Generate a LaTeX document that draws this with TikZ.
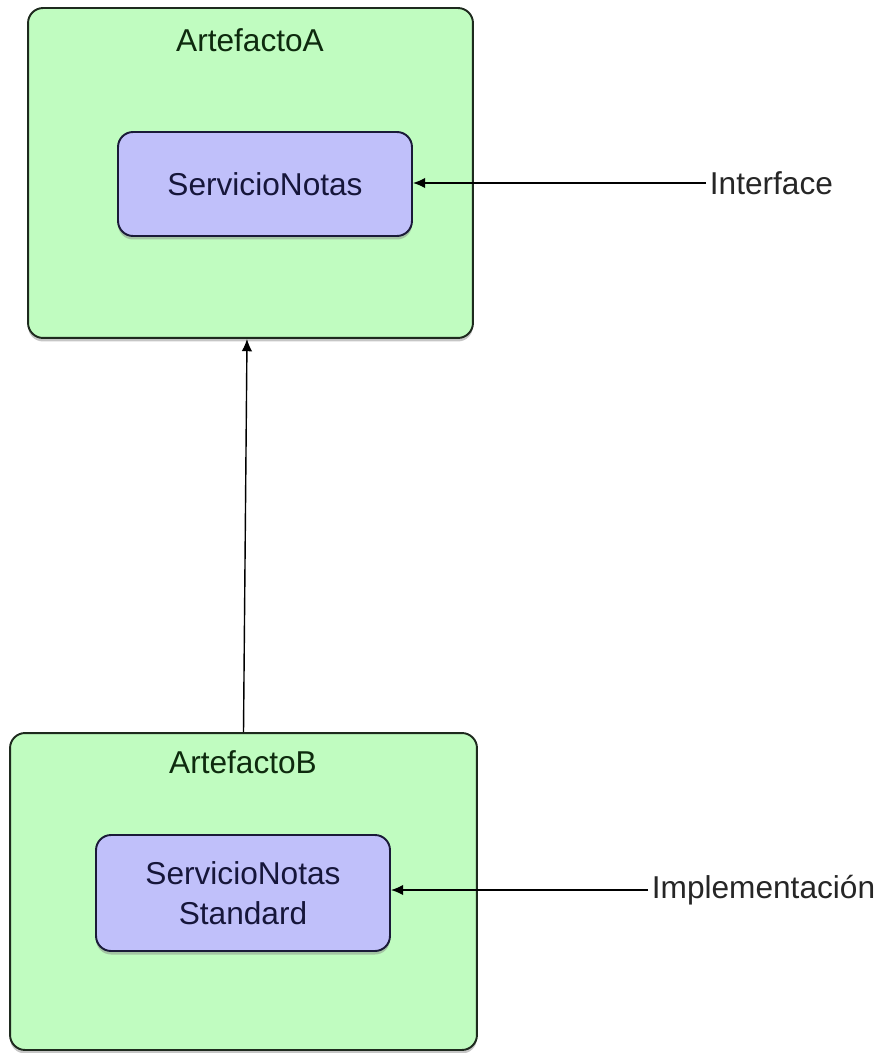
\documentclass[tikz,border=0pt]{standalone}
\usepackage{fontspec}
\setmainfont{Liberation Sans}
\usepackage{xcolor}
\usepackage{tikz}
\usetikzlibrary{shadows, arrows.meta}

\definecolor{artgreen}{HTML}{C0FCC0}
\definecolor{srvblue}{HTML}{C0C0FA}
\definecolor{artline}{HTML}{1E2A1E}
\definecolor{srvline}{HTML}{1A1A38}
\definecolor{arttext}{HTML}{0E2A0E}
\definecolor{srvtext}{HTML}{16163A}

\tikzset{
  artefacto/.style={draw=artline, line width=1.1pt, fill=artgreen, rounded corners=0.3cm,
    drop shadow={shadow xshift=0pt, shadow yshift=-2pt, opacity=0.45}},
  servicio/.style={draw=srvline, line width=1.1pt, fill=srvblue, rounded corners=0.3cm,
    minimum width=5.88cm, align=center, text=srvtext,
    drop shadow={shadow xshift=0pt, shadow yshift=-2pt, opacity=0.45}},
  txt/.style={font=\fontsize{18}{23}\selectfont},
  flecha/.style={-{Latex[length=7pt, width=6pt]}, line width=0.8pt},
}

\begin{document}
\begin{tikzpicture}[x=0.02cm, y=-0.02cm, txt]
            \useasboundingbox (0,0) rectangle (879,1053);
            % artefacto A
            \node[artefacto, minimum width=8.9cm, minimum height=6.6cm] (artA) at (250.5,173) {};
            \node[text=arttext] (lblA) at (250,40) {ArtefactoA};
            \node[servicio, minimum height=2.08cm] (servA) at (265,184) {ServicioNotas};
            % artefacto B
            \node[artefacto, minimum width=9.34cm, minimum height=6.34cm] (artB) at (243.5,891.5) {};
            \node[text=arttext] (lblB) at (243,762) {ArtefactoB};
            \node[servicio, minimum height=2.32cm] (servB) at (243,893) {ServicioNotas\\Standard};
            % etiquetas
            \node[anchor=west, inner sep=2pt, text=black!85] (iface) at (706,183) {Interface};
            \node[anchor=west, inner sep=2pt, text=black!85] (impl) at (648,890) {Implementación};
            \draw[flecha] (iface.west) -- (iface.west -| servA.east);
            \draw[flecha] (impl.west) -- (impl.west -| servB.east);
            \draw[flecha] (artB.north) -- ([xshift=-0.07cm]artA.south);
          \end{tikzpicture}
\end{document}
